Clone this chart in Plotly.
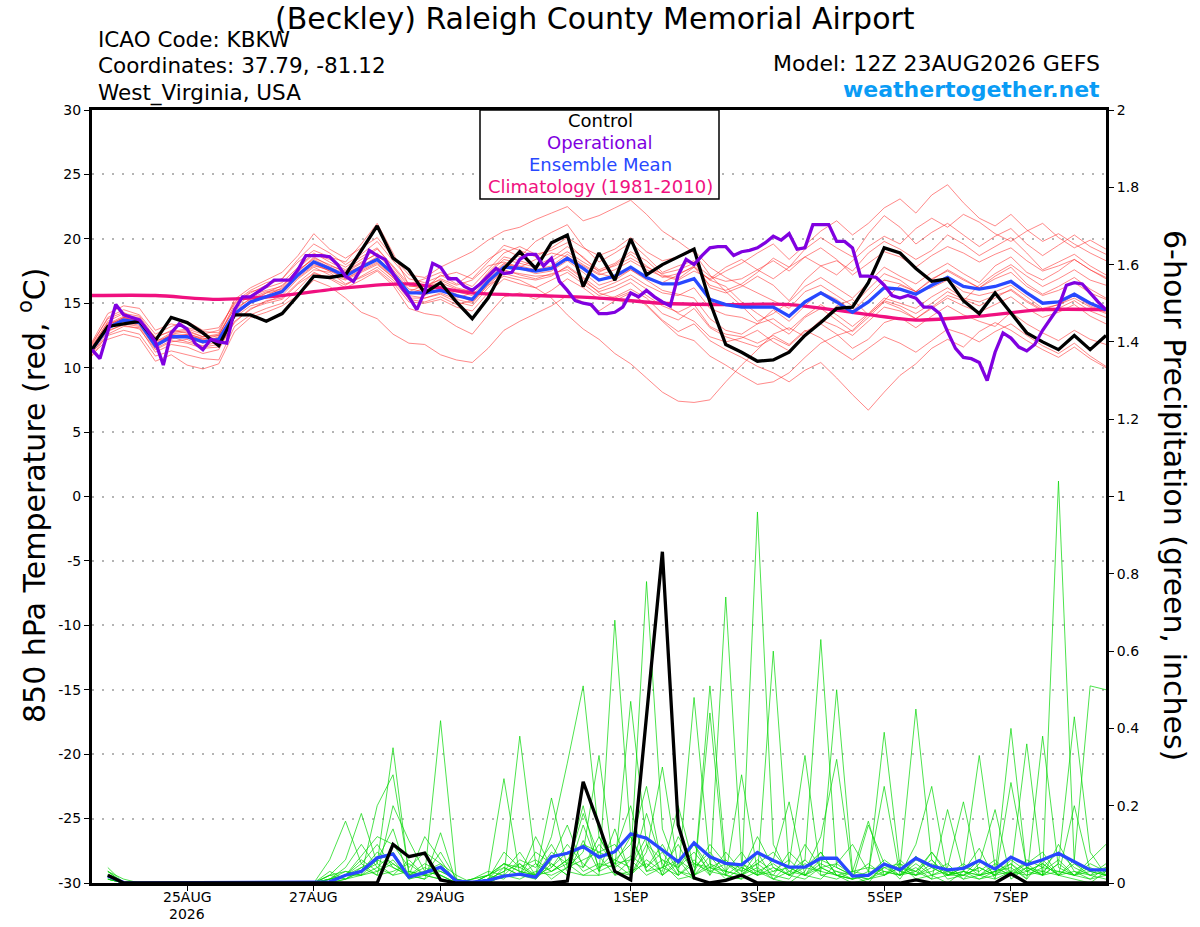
import datetime as dt
import plotly.graph_objects as go

# ---------------- data ----------------
RUN_START = dt.datetime(2026, 8, 23, 12)

x_tick_dates = ["2026-08-25", "2026-08-27", "2026-08-29", "2026-09-01",
                "2026-09-03", "2026-09-05", "2026-09-07"]
x_tick_labels = ["25AUG", "27AUG", "29AUG", "1SEP", "3SEP", "5SEP", "7SEP"]
x_year_label = "2026"

temp_tick_vals = [-30, -25, -20, -15, -10, -5, 0, 5, 10, 15, 20, 25, 30]
temp_tick_labels = ["-30", "-25", "-20", "-15", "-10", "-5", "0", "5", "10", "15", "20", "25", "30"]
precip_tick_vals = [0, 0.2, 0.4, 0.6, 0.8, 1.0, 1.2, 1.4, 1.6, 1.8, 2.0]
precip_tick_labels = ["0", "0.2", "0.4", "0.6", "0.8", "1", "1.2", "1.4", "1.6", "1.8", "2"]

# 850 hPa temperature, 6-hourly from 12Z 23AUG
temp_control = [11.4, 13.2, 13.4, 13.6, 12.1, 13.9, 13.5, 12.7, 11.7,
                14.1, 14.1, 13.6, 14.2, 15.6, 17.1, 17.0, 17.2, 19.1, 21.0, 18.5, 17.6,
                15.8, 16.6, 15.1, 13.8, 15.4, 17.7, 19.0, 17.7, 19.7, 20.3,
                16.3, 18.9, 16.8, 20.0, 17.2, 18.0, 18.6, 19.2, 15.1, 11.8,
                11.2, 10.5, 10.6, 11.2, 12.5, 13.5, 14.6, 14.7, 16.6, 19.3, 18.9, 17.7,
                16.7, 16.9, 15.2, 14.2, 15.8, 14.3, 12.7, 12.0, 11.4, 12.5, 11.4, 12.5]

temp_mean = [11.4, 13.1, 13.7, 13.5, 11.7, 12.4, 12.4, 12.0, 12.2,
             14.2, 15.1, 15.5, 15.9, 17.2, 18.2, 17.7, 17.1, 17.8, 18.4, 17.3, 15.8,
             15.8, 16.0, 15.6, 15.3, 16.7, 17.8, 17.7, 17.5, 17.7, 18.5,
             17.7, 16.8, 17.1, 17.8, 17.0, 16.5, 16.5, 16.9, 15.3, 14.9,
             14.7, 14.7, 14.7, 14.0, 15.1, 15.8, 15.1, 14.3, 15.1, 16.2, 16.1, 15.7,
             16.4, 17.0, 16.3, 16.1, 16.3, 16.7, 15.8, 15.0, 15.1, 15.7, 15.0, 14.5]

# operational run, 3-hourly
temp_operational = [11.4, 10.7, 12.8, 14.9, 14.1, 13.9, 13.7, 12.9, 12.0, 10.2,
                    12.7, 13.4, 13.0, 11.9, 11.4, 12.2, 12.0, 11.9, 14.5, 15.5,
                    15.5, 15.9, 16.3, 16.8, 16.8, 16.8, 17.6, 18.7, 18.7, 18.7,
                    18.6, 18.0, 17.1, 16.7, 17.7, 19.1, 18.7, 18.4, 17.3, 16.3,
                    15.5, 14.5, 15.9, 18.1, 17.8, 16.9, 16.9, 16.3, 16.0, 16.5,
                    17.1, 17.7, 17.3, 17.4, 18.4, 18.8, 18.8, 17.9, 18.5, 16.7,
                    16.0, 15.2, 15.0, 14.9, 14.2, 14.2, 14.3, 14.7, 15.8, 15.5,
                    16.0, 15.5, 15.1, 14.8, 17.2, 18.4, 18.0, 18.7, 19.3, 19.4,
                    19.4, 18.7, 19.0, 19.1, 19.3, 19.7, 20.2, 19.9, 20.4, 19.2,
                    19.3, 21.1, 21.1, 21.1, 19.8, 19.8, 19.3, 17.1, 17.1, 17.0,
                    16.4, 15.6, 15.4, 15.6, 15.4, 14.7, 14.7, 14.2, 12.8, 11.5,
                    10.8, 10.7, 10.4, 9.0, 11.2, 12.7, 12.3, 11.6, 11.3, 11.8,
                    12.9, 13.8, 14.7, 16.4, 16.6, 16.5, 15.8, 15.1, 14.5]

# climatology, daily at 12Z
temp_climatology = [15.6, 15.6, 15.3, 15.6, 16.2, 16.5, 15.8, 15.6, 15.4,
                    15.0, 14.9, 14.9, 14.3, 13.7, 14.0, 14.5, 14.5]

# ensemble members, 6-hourly
temp_m01 = [11.8, 13.9, 14.5, 14.1, 12.6, 13.2, 13.6, 12.9, 13.1,
            15.0, 15.8, 16.4, 16.9, 18.2, 19.1, 18.6, 18.2, 19.6, 21.2, 18.9, 16.4,
            16.1, 17.2, 16.5, 17.3, 18.4, 19.2, 18.6, 19.8, 20.5, 21.1,
            19.4, 18.2, 18.9, 19.7, 18.6, 17.4, 17.9, 18.3, 16.2, 15.8,
            16.3, 17.1, 16.4, 15.2, 16.8, 17.9, 18.3, 17.5, 18.9, 19.8, 19.2, 18.4,
            19.1, 20.3, 19.6, 18.7, 19.4, 20.1, 18.9, 17.6, 18.2, 18.8, 17.9, 17.2]
temp_m02 = [11.2, 12.5, 12.9, 12.6, 10.9, 11.3, 11.0, 10.7, 10.6,
            13.2, 14.1, 14.6, 15.0, 16.1, 17.4, 16.9, 16.2, 16.8, 17.5, 16.4, 14.6,
            14.2, 14.0, 13.2, 12.6, 14.1, 15.5, 15.8, 15.3, 16.0, 16.9,
            16.2, 15.3, 15.5, 16.1, 15.4, 14.2, 13.7, 14.6, 13.1, 12.4,
            12.0, 11.6, 12.3, 11.7, 12.8, 13.4, 12.6, 11.5, 12.2, 13.5, 13.9, 13.1,
            14.0, 14.8, 14.1, 13.6, 13.2, 14.3, 13.4, 12.7, 12.1, 12.9, 12.2, 11.8]
temp_m03 = [11.5, 13.4, 14.0, 13.9, 12.0, 12.7, 12.9, 12.4, 12.6,
            14.6, 15.3, 15.8, 16.4, 17.5, 18.5, 18.0, 17.4, 18.1, 18.9, 17.6, 16.1,
            15.9, 16.3, 15.7, 15.1, 16.4, 17.1, 16.8, 16.2, 15.4, 14.1,
            13.0, 12.2, 11.1, 10.3, 9.2, 8.1, 7.4, 7.3, 7.5, 8.9,
            10.2, 11.4, 12.6, 13.1, 12.4, 13.6, 14.8, 15.3, 14.1, 15.2, 16.4, 15.9,
            16.8, 17.6, 16.9, 16.2, 17.1, 17.8, 16.5, 15.7, 16.3, 17.0, 16.1, 15.4]
temp_m04 = [11.0, 12.2, 12.6, 12.3, 10.5, 11.0, 10.2, 9.9, 10.3,
            12.8, 13.9, 14.3, 14.8, 15.6, 16.8, 16.3, 15.4, 14.3, 13.8, 12.6, 11.9,
            11.8, 11.0, 10.6, 10.4, 11.5, 12.9, 13.6, 14.2, 14.8, 15.6,
            15.1, 14.4, 15.2, 15.8, 14.9, 13.7, 12.8, 13.4, 12.1, 11.4,
            10.8, 10.1, 9.6, 8.9, 9.8, 10.4, 9.2, 7.9, 6.7, 8.1, 9.4, 10.3,
            11.5, 12.2, 11.6, 12.8, 13.5, 12.9, 12.1, 11.4, 10.8, 11.6, 10.7, 10.0]
temp_m05 = [11.6, 13.6, 14.2, 14.0, 12.3, 12.9, 12.7, 12.2, 12.5,
            14.9, 15.9, 16.2, 16.6, 17.8, 18.9, 18.2, 17.6, 18.4, 19.2, 17.9, 16.5,
            16.9, 17.4, 16.8, 16.3, 17.6, 18.9, 19.4, 18.8, 19.1, 19.7,
            18.5, 17.6, 18.1, 19.0, 18.3, 17.2, 16.9, 17.8, 16.8, 17.5,
            18.1, 18.9, 19.6, 18.4, 19.5, 20.6, 21.4, 20.3, 21.2, 22.4, 23.1, 22.0,
            23.4, 24.2, 22.8, 21.6, 21.0, 21.9, 20.7, 19.8, 20.4, 19.6, 18.9, 18.3]
temp_m06 = [12.0, 14.2, 14.8, 14.6, 12.9, 13.4, 13.1, 12.8, 12.7,
            15.3, 16.2, 16.8, 17.4, 18.7, 20.4, 19.2, 18.5, 19.3, 20.1, 18.6, 17.2,
            17.0, 17.8, 18.4, 19.0, 19.9, 20.6, 20.9, 21.5, 22.0, 22.5,
            21.4, 21.8, 22.4, 23.0, 21.9, 20.6, 19.8, 18.9, 17.2, 15.9,
            14.8, 13.6, 14.2, 15.1, 16.3, 17.0, 16.2, 15.4, 16.6, 17.8, 17.1, 16.5,
            17.4, 18.1, 17.3, 16.6, 17.9, 18.6, 17.4, 16.8, 17.5, 18.4, 17.6, 16.9]
temp_m07 = [11.3, 12.9, 13.3, 13.0, 11.4, 12.0, 12.2, 11.6, 11.8,
            13.9, 14.8, 15.1, 15.6, 16.9, 17.8, 17.2, 16.8, 17.4, 18.0, 17.0, 15.6,
            15.4, 15.7, 15.1, 14.8, 16.2, 17.3, 17.0, 16.8, 17.1, 17.9,
            17.0, 16.1, 16.6, 17.2, 16.4, 15.8, 15.6, 16.2, 14.6, 14.1,
            13.9, 13.4, 13.8, 12.9, 14.0, 14.9, 14.1, 13.2, 14.2, 15.4, 15.0, 14.6,
            15.5, 16.2, 15.4, 15.1, 15.6, 16.0, 15.1, 14.4, 14.6, 15.2, 14.4, 13.9]
temp_m08 = [11.4, 13.0, 13.9, 13.8, 11.9, 12.6, 12.3, 11.9, 12.4,
            14.4, 15.4, 15.9, 16.1, 17.4, 18.6, 17.9, 17.5, 18.2, 18.8, 17.5, 15.9,
            16.4, 16.8, 16.2, 15.9, 17.4, 18.6, 18.3, 17.9, 18.5, 19.4,
            18.6, 17.4, 18.0, 18.8, 17.9, 17.0, 17.3, 17.8, 16.4, 16.0,
            16.5, 17.4, 18.5, 17.8, 19.2, 20.1, 19.3, 18.6, 20.4, 21.8, 20.9, 19.6,
            20.5, 21.2, 20.3, 19.4, 20.2, 20.8, 19.6, 18.7, 19.5, 20.3, 19.4, 18.8]
temp_m09 = [10.9, 12.6, 13.2, 13.1, 11.2, 11.8, 11.6, 11.1, 11.4,
            13.6, 14.5, 15.2, 15.4, 16.6, 17.6, 17.4, 16.5, 17.0, 17.6, 16.6, 15.1,
            15.0, 15.3, 14.7, 14.4, 15.8, 16.9, 16.5, 16.2, 16.8, 17.4,
            16.5, 15.6, 16.0, 16.6, 15.6, 14.8, 14.3, 14.9, 13.2, 12.6,
            12.4, 11.9, 12.5, 11.8, 12.9, 12.3, 11.4, 10.6, 11.5, 12.4, 11.9, 11.2,
            12.1, 13.0, 12.6, 12.0, 12.8, 13.4, 12.5, 11.7, 11.1, 11.9, 10.9, 10.1]
temp_m10 = [11.7, 13.5, 13.6, 13.4, 11.8, 12.2, 12.6, 12.3, 12.0,
            14.1, 15.0, 15.6, 16.2, 17.6, 18.4, 17.8, 17.3, 17.9, 18.6, 17.2, 15.7,
            16.2, 16.9, 16.4, 16.8, 17.9, 18.2, 17.8, 18.4, 18.9, 18.6,
            17.9, 17.2, 17.6, 18.3, 17.6, 17.1, 16.8, 17.5, 16.9, 17.8,
            18.4, 17.6, 16.9, 17.8, 18.6, 17.9, 17.2, 18.3, 19.4, 20.2, 19.6, 20.8,
            21.6, 20.9, 21.9, 21.3, 20.4, 19.8, 20.6, 21.2, 20.1, 19.3, 19.9, 19.2]
temp_m11 = [11.5, 13.1, 13.5, 13.3, 11.6, 12.3, 12.5, 12.2, 12.3,
            14.3, 15.2, 15.4, 15.8, 17.0, 17.9, 17.6, 16.9, 17.6, 18.2, 17.1, 15.9,
            15.6, 16.2, 15.9, 15.6, 16.9, 18.0, 17.9, 17.6, 17.9, 18.8,
            18.0, 17.3, 17.0, 17.6, 16.8, 16.0, 15.7, 15.4, 13.8, 12.9,
            12.6, 13.4, 14.5, 13.6, 14.8, 15.9, 15.3, 14.4, 15.6, 16.8, 16.5, 15.9,
            16.2, 16.8, 15.9, 15.6, 15.9, 16.4, 15.5, 14.6, 14.9, 15.4, 14.7, 14.2]
temp_m12 = [11.9, 13.8, 14.3, 13.6, 12.4, 12.8, 13.0, 12.6, 12.9,
            15.1, 16.0, 16.6, 16.9, 18.4, 19.6, 18.9, 18.0, 18.8, 19.8, 18.3, 16.9,
            16.6, 17.1, 17.4, 16.9, 18.2, 19.5, 19.1, 18.6, 19.3, 20.1,
            19.3, 18.7, 19.2, 20.1, 19.0, 18.3, 18.6, 19.1, 17.8, 17.0,
            16.4, 15.8, 15.2, 14.6, 15.9, 16.4, 15.6, 14.8, 16.1, 17.3, 16.8, 15.9,
            16.9, 17.5, 16.8, 16.2, 16.9, 17.4, 16.3, 15.6, 16.0, 16.6, 15.8, 15.3]
temp_m13 = [11.1, 12.8, 13.4, 13.2, 11.5, 12.1, 11.9, 11.5, 11.6,
            13.5, 14.6, 15.0, 15.3, 16.5, 17.3, 17.0, 16.4, 17.1, 17.8, 16.8, 15.3,
            15.1, 15.5, 14.9, 15.2, 16.5, 17.6, 17.2, 16.9, 17.3, 17.6,
            16.7, 15.9, 16.3, 16.9, 16.1, 15.1, 14.2, 13.6, 12.4, 12.0,
            12.3, 12.9, 12.0, 11.3, 12.6, 13.7, 13.2, 12.5, 13.6, 14.7, 14.4, 13.8,
            14.6, 15.4, 14.8, 14.3, 14.9, 15.5, 14.6, 13.9, 14.3, 14.9, 14.0, 13.4]
temp_m14 = [11.3, 13.2, 13.8, 13.7, 11.7, 12.5, 12.6, 12.1, 12.1,
            14.0, 15.0, 15.8, 16.0, 17.3, 18.1, 17.5, 17.3, 17.9, 18.5, 17.4, 15.8,
            15.8, 16.3, 15.4, 15.8, 17.1, 18.1, 17.7, 17.3, 17.5, 18.3,
            17.4, 16.4, 16.8, 17.6, 16.9, 16.6, 17.2, 17.9, 16.8, 16.3,
            15.1, 14.2, 13.4, 12.6, 13.9, 14.6, 13.7, 12.8, 13.9, 15.1, 14.6, 13.8,
            14.7, 15.6, 15.2, 16.4, 17.3, 18.0, 17.1, 16.3, 16.9, 17.6, 16.8, 16.4]
temp_m15 = [11.6, 13.3, 13.9, 13.5, 12.1, 12.4, 12.0, 11.7, 12.0,
            14.2, 15.2, 15.5, 15.9, 17.1, 18.0, 17.5, 16.9, 17.5, 18.1, 17.0, 15.4,
            15.4, 15.8, 15.3, 15.0, 16.4, 17.5, 17.3, 17.1, 17.2, 17.8,
            16.9, 15.8, 15.4, 15.9, 14.8, 13.6, 12.5, 12.1, 10.9, 10.2,
            9.4, 8.7, 8.9, 9.6, 10.8, 11.9, 12.5, 12.9, 14.1, 15.2, 14.8, 14.2,
            15.0, 15.9, 15.3, 14.8, 15.4, 16.1, 15.2, 14.5, 14.9, 15.6, 14.8, 14.3]
temp_m16 = [11.5, 13.3, 13.9, 13.6, 11.8, 12.6, 12.8, 12.4, 12.5,
            14.7, 15.6, 16.0, 16.3, 17.7, 18.8, 18.4, 17.8, 18.6, 19.3, 17.8, 16.3,
            16.3, 16.6, 16.1, 15.9, 17.3, 18.4, 18.1, 17.8, 18.3, 19.0,
            18.2, 17.5, 17.9, 18.5, 17.8, 17.3, 17.6, 18.1, 17.1, 16.7,
            16.9, 17.6, 18.3, 17.5, 18.6, 19.3, 18.4, 17.2, 18.1, 19.0, 18.6, 17.8,
            18.7, 19.4, 18.9, 18.2, 18.8, 19.3, 18.3, 17.5, 17.9, 18.4, 17.6, 17.0]

# 6-hour precipitation (inches), valid from 18Z 23AUG, 6-hourly
precip_control = [0.02, 0, 0, 0, 0, 0, 0, 0,
                  0, 0, 0, 0, 0, 0, 0, 0,
                  0, 0, 0.10, 0.068, 0.077, 0.008, 0, 0,
                  0, 0, 0, 0, 0, 0.005, 0.262, 0.15,
                  0.03, 0.008, 0.43, 0.857, 0.15, 0.013, 0, 0.007,
                  0.02, 0, 0, 0, 0, 0, 0, 0,
                  0, 0, 0, 0.008, 0, 0, 0, 0,
                  0, 0.024, 0, 0, 0, 0, 0, 0]
precip_mean = [0.018, 0.001, 0, 0, 0, 0, 0, 0,
               0, 0, 0, 0, 0, 0.002, 0.003, 0.02,
               0.03, 0.065, 0.075, 0.015, 0.027, 0.041, 0.005, 0.002,
               0.007, 0.018, 0.023, 0.015, 0.068, 0.077, 0.094, 0.067,
               0.081, 0.127, 0.116, 0.085, 0.055, 0.104, 0.068, 0.051,
               0.047, 0.079, 0.058, 0.041, 0.041, 0.064, 0.064, 0.018,
               0.02, 0.049, 0.034, 0.064, 0.044, 0.034, 0.038, 0.058,
               0.036, 0.067, 0.047, 0.06, 0.077, 0.055, 0.034, 0.034]

precip_m01 = [0.04, 0, 0, 0, 0, 0, 0, 0,
              0, 0, 0, 0, 0, 0, 0.02, 0.06,
              0.18, 0.05, 0.35, 0.02, 0.01, 0.13, 0, 0,
              0.01, 0.03, 0.08, 0.02, 0.12, 0.31, 0.51, 0.12,
              0.04, 0.47, 0.1, 0.02, 0.06, 0.01, 0.51, 0.05,
              0.02, 0.08, 0.01, 0, 0.03, 0.12, 0.32, 0.02,
              0, 0.05, 0.01, 0.07, 0.02, 0, 0.03, 0.09,
              0.01, 0.26, 0.04, 0.02, 0.1, 0.03, 0.01, 0.02]
precip_m02 = [0.03, 0, 0, 0, 0, 0, 0, 0,
              0, 0, 0, 0, 0, 0, 0.01, 0.03,
              0.02, 0.2, 0.28, 0.03, 0.02, 0.42, 0.01, 0,
              0, 0.02, 0.38, 0.05, 0.01, 0.04, 0.08, 0.33,
              0.02, 0.03, 0.18, 0.05, 0.01, 0.02, 0.07, 0.02,
              0.01, 0.96, 0.1, 0.02, 0.01, 0.04, 0.02, 0,
              0.01, 0.02, 0.04, 0.45, 0.06, 0.01, 0.02, 0.01,
              0.03, 0.04, 0.01, 0.06, 0.02, 0.01, 0, 0.03]
precip_m03 = [0.02, 0, 0, 0, 0, 0, 0, 0,
              0, 0, 0, 0, 0, 0, 0.06, 0.16,
              0.05, 0.02, 0.2, 0.11, 0.03, 0.02, 0, 0.01,
              0.02, 0.27, 0.02, 0.12, 0.04, 0.1, 0.05, 0.02,
              0.68, 0.12, 0.04, 0.08, 0.02, 0.48, 0.05, 0.01,
              0.04, 0.02, 0.06, 0.21, 0.02, 0.01, 0.05, 0.1,
              0.03, 0.25, 0.02, 0.04, 0.01, 0.19, 0.03, 0.01,
              0.02, 0.05, 0.01, 0.38, 0.04, 0.02, 0.06, 0.1]
precip_m04 = [0.01, 0, 0, 0, 0, 0, 0, 0,
              0, 0, 0, 0, 0, 0, 0, 0.02,
              0.07, 0.12, 0.1, 0.04, 0.08, 0.05, 0.02, 0,
              0.01, 0.05, 0.03, 0.02, 0.22, 0.04, 0.18, 0.07,
              0.02, 0.06, 0.78, 0.14, 0.03, 0.01, 0.44, 0.02,
              0.28, 0.03, 0.01, 0.05, 0.33, 0.02, 0.01, 0.03,
              0.16, 0.02, 0.05, 0.01, 0.02, 0.04, 0.21, 0.02,
              0.01, 0.03, 0.36, 0.02, 0.05, 0.43, 0.08, 0.02]
precip_m05 = [0.02, 0, 0, 0, 0, 0, 0, 0,
              0, 0, 0, 0, 0, 0, 0.03, 0.01,
              0.03, 0.08, 0.05, 0.02, 0.12, 0.06, 0, 0,
              0.02, 0.01, 0.05, 0.01, 0.06, 0.15, 0.04, 0.1,
              0.05, 0.02, 0.08, 0.3, 0.04, 0.1, 0.02, 0.74,
              0.05, 0.02, 0.6, 0.04, 0.02, 0.08, 0.02, 0.01,
              0.02, 0.39, 0.04, 0.02, 0.08, 0.03, 0.01, 0.05,
              0.19, 0.01, 0.04, 0.02, 1.04, 0.05, 0.02, 0.01]
precip_m06 = [0.01, 0, 0, 0, 0, 0, 0, 0,
              0, 0, 0, 0, 0, 0, 0, 0.01,
              0.04, 0.06, 0.14, 0.01, 0.02, 0.08, 0.01, 0,
              0, 0.04, 0.02, 0.01, 0.05, 0.02, 0.11, 0.03,
              0.14, 0.02, 0.06, 0.03, 0.2, 0.04, 0.08, 0.03,
              0.02, 0.05, 0.02, 0.01, 0.06, 0.63, 0.04, 0.02,
              0.01, 0.04, 0.02, 0.1, 0.25, 0.02, 0.04, 0.33,
              0.04, 0.02, 0.05, 0.08, 0.02, 0.06, 0.51, 0.5]
precip_m07 = [0.02, 0, 0, 0, 0, 0, 0, 0,
              0, 0, 0, 0, 0, 0, 0.01, 0.04,
              0.1, 0.04, 0.08, 0.02, 0.05, 0.03, 0.01, 0,
              0.01, 0.08, 0.04, 0.06, 0.03, 0.05, 0.02, 0.04,
              0.06, 0.1, 0.25, 0.04, 0.02, 0.06, 0.02, 0.08,
              0.03, 0.12, 0.04, 0.02, 0.05, 0.03, 0.5, 0.03,
              0.02, 0.06, 0.03, 0.02, 0.04, 0.02, 0.02, 0.04,
              0.02, 0.4, 0.03, 0.05, 0.02, 0.03, 0.02, 0.03]
precip_m08 = [0.03, 0.01, 0, 0, 0, 0, 0, 0,
              0, 0, 0, 0, 0, 0, 0.02, 0.03,
              0.02, 0.03, 0.06, 0.01, 0.03, 0.02, 0, 0,
              0, 0.02, 0.01, 0.03, 0.02, 0.04, 0.06, 0.08,
              0.1, 0.03, 0.05, 0.02, 0.12, 0.05, 0.03, 0.02,
              0.01, 0.03, 0.05, 0.02, 0.04, 0.08, 0.02, 0.01,
              0.15, 0.05, 0.02, 0.03, 0.01, 0.02, 0.03, 0.02,
              0.04, 0.02, 0.03, 0.05, 0.02, 0.2, 0.03, 0.02]
precip_m09 = [0.02, 0, 0, 0, 0, 0, 0, 0,
              0, 0, 0, 0, 0, 0, 0, 0.02,
              0.05, 0.1, 0.04, 0.02, 0.01, 0.04, 0, 0.01,
              0.02, 0.05, 0.03, 0.02, 0.04, 0.08, 0.03, 0.05,
              0.04, 0.07, 0.04, 0.1, 0.03, 0.02, 0.05, 0.03,
              0.02, 0.04, 0.01, 0.03, 0.06, 0.02, 0.03, 0.01,
              0.03, 0.02, 0.06, 0.02, 0.03, 0.05, 0.01, 0.02,
              0.03, 0.05, 0.02, 0.03, 0.06, 0.02, 0.01, 0.04]
precip_m10 = [0.01, 0, 0, 0, 0, 0, 0, 0,
              0, 0, 0, 0, 0, 0, 0.02, 0.01,
              0.02, 0.04, 0.02, 0.06, 0.02, 0.01, 0, 0,
              0.01, 0.02, 0.06, 0.04, 0.1, 0.03, 0.02, 0.02,
              0.03, 0.02, 0.1, 0.06, 0.04, 0.08, 0.03, 0.05,
              0.04, 0.02, 0.03, 0.06, 0.02, 0.04, 0.05, 0.02,
              0.01, 0.03, 0.02, 0.05, 0.02, 0.03, 0.02, 0.06,
              0.02, 0.03, 0.05, 0.02, 0.03, 0.02, 0.04, 0.02]
precip_m11 = [0.03, 0, 0, 0, 0, 0, 0, 0,
              0, 0, 0, 0, 0, 0, 0, 0.01,
              0.03, 0.05, 0.02, 0.03, 0.02, 0.01, 0, 0,
              0.02, 0.04, 0.02, 0.08, 0.05, 0.02, 0.15, 0.04,
              0.08, 0.2, 0.03, 0.04, 0.1, 0.02, 0.04, 0.06,
              0.02, 0.06, 0.03, 0.04, 0.02, 0.05, 0.03, 0.02,
              0.02, 0.04, 0.05, 0.03, 0.08, 0.02, 0.05, 0.02,
              0.03, 0.02, 0.06, 0.04, 0.08, 0.04, 0.02, 0.05]
precip_m12 = [0.02, 0, 0, 0, 0, 0, 0, 0,
              0, 0, 0, 0, 0, 0, 0.01, 0.02,
              0.04, 0.02, 0.03, 0.05, 0.02, 0.03, 0.01, 0,
              0.01, 0.03, 0.05, 0.02, 0.03, 0.06, 0.1, 0.08,
              0.06, 0.04, 0.12, 0.02, 0.05, 0.1, 0.04, 0.02,
              0.05, 0.03, 0.02, 0.08, 0.04, 0.03, 0.02, 0.03,
              0.04, 0.03, 0.02, 0.06, 0.04, 0.02, 0.03, 0.02,
              0.05, 0.03, 0.02, 0.04, 0.03, 0.02, 0.05, 0.03]
precip_m13 = [0.01, 0, 0, 0, 0, 0, 0, 0,
              0, 0, 0, 0, 0, 0, 0.01, 0.02,
              0.06, 0.03, 0.05, 0.02, 0.04, 0.02, 0, 0,
              0.02, 0.05, 0.04, 0.02, 0.08, 0.05, 0.2, 0.03,
              0.05, 0.12, 0.03, 0.06, 0.02, 0.05, 0.04, 0.03,
              0.08, 0.02, 0.04, 0.02, 0.1, 0.04, 0.02, 0.01,
              0.02, 0.05, 0.03, 0.02, 0.05, 0.03, 0.02, 0.04,
              0.02, 0.06, 0.03, 0.02, 0.05, 0.02, 0.03, 0.02]
precip_m14 = [0.02, 0, 0, 0, 0, 0, 0, 0,
              0, 0, 0, 0, 0, 0, 0.01, 0.02,
              0.02, 0.06, 0.04, 0.02, 0.03, 0.05, 0, 0.01,
              0.03, 0.02, 0.02, 0.05, 0.03, 0.06, 0.04, 0.12,
              0.05, 0.06, 0.02, 0.04, 0.06, 0.03, 0.1, 0.05,
              0.03, 0.05, 0.08, 0.03, 0.02, 0.06, 0.04, 0.02,
              0.05, 0.02, 0.04, 0.03, 0.06, 0.02, 0.04, 0.03,
              0.06, 0.02, 0.04, 0.03, 0.02, 0.05, 0.03, 0.04]

temp_members = [temp_m01, temp_m02, temp_m03, temp_m04, temp_m05, temp_m06, temp_m07, temp_m08,
                temp_m09, temp_m10, temp_m11, temp_m12, temp_m13, temp_m14, temp_m15, temp_m16]
precip_members = [precip_m01, precip_m02, precip_m03, precip_m04, precip_m05, precip_m06, precip_m07,
                  precip_m08, precip_m09, precip_m10, precip_m11, precip_m12, precip_m13, precip_m14]

# ---------------- helpers ----------------
def times(n, step_h, first_h=0):
    return [RUN_START + dt.timedelta(hours=first_h + step_h * i) for i in range(n)]

W, H = 1200, 927
L, R, T, B = 92, 1106, 110, 883

def px(x):
    return (x - L) / (R - L)

def py(y):
    return (B - y) / (B - T)

FONT = "DejaVu Sans"
RED = "rgb(255,45,45)"
GREEN = "rgb(0,215,0)"
PURPLE = "#8000e0"
BLUE = "#2848ff"
MAGENTA = "#f0107f"

fig = go.Figure()

# precipitation members (right axis)
for m in precip_members:
    fig.add_trace(go.Scatter(x=times(len(m), 6, 6), y=m, yaxis="y2", mode="lines",
                             line=dict(color=GREEN, width=0.7), hoverinfo="skip"))
# temperature members
for m in temp_members:
    fig.add_trace(go.Scatter(x=times(len(m), 6), y=m, mode="lines",
                             line=dict(color=RED, width=0.7), opacity=0.8, hoverinfo="skip"))

# climatology
fig.add_trace(go.Scatter(x=times(len(temp_climatology), 24), y=temp_climatology, mode="lines",
                         line=dict(color=MAGENTA, width=3.3, shape="spline", smoothing=0.8)))
# ensemble means
fig.add_trace(go.Scatter(x=times(len(precip_mean), 6, 6), y=precip_mean, yaxis="y2", mode="lines",
                         line=dict(color=BLUE, width=3.3)))
fig.add_trace(go.Scatter(x=times(len(temp_mean), 6), y=temp_mean, mode="lines",
                         line=dict(color=BLUE, width=3.3)))
# control
fig.add_trace(go.Scatter(x=times(len(precip_control), 6, 6), y=precip_control, yaxis="y2", mode="lines",
                         line=dict(color="black", width=3.3)))
fig.add_trace(go.Scatter(x=times(len(temp_control), 6), y=temp_control, mode="lines",
                         line=dict(color="black", width=3.3)))
# operational
fig.add_trace(go.Scatter(x=times(len(temp_operational), 3), y=temp_operational, mode="lines",
                         line=dict(color=PURPLE, width=3.3)))

x_end = RUN_START + dt.timedelta(hours=384)

fig.update_layout(
    width=W, height=H,
    margin=dict(l=L, r=W - R, t=T, b=H - B, pad=0),
    plot_bgcolor="white", paper_bgcolor="white",
    showlegend=False,
    font=dict(family=FONT, color="black", size=14),
    xaxis=dict(type="date", range=[RUN_START, x_end],
               tickmode="array", tickvals=x_tick_dates, showticklabels=False,
               ticks="outside", ticklen=5, tickwidth=1, tickcolor="black",
               showline=True, linewidth=3, linecolor="black", mirror=True,
               showgrid=False, zeroline=False, automargin=False),
    yaxis=dict(range=[-30, 30], tickmode="array", tickvals=temp_tick_vals, ticktext=temp_tick_labels,
               ticks="outside", ticklen=5, tickwidth=1, tickcolor="black",
               showline=True, linewidth=3, linecolor="black",
               showgrid=True, gridcolor="#b4b4b4", griddash="2px,8px", gridwidth=1.5,
               zeroline=False, automargin=False, tickfont=dict(size=14, family=FONT)),
    yaxis2=dict(range=[0, 2], overlaying="y", side="right",
                tickmode="array", tickvals=precip_tick_vals, ticktext=precip_tick_labels,
                ticks="outside", ticklen=5, tickwidth=1, tickcolor="black",
                showline=True, linewidth=3, linecolor="black",
                showgrid=False, zeroline=False, automargin=False,
                tickfont=dict(size=14, family=FONT)),
)

# date labels under the x ticks, placed on the date axis
for d, lab in zip(x_tick_dates, x_tick_labels):
    fig.add_annotation(text=lab, xref="x", yref="paper", x=d, y=py(897),
                       xanchor="center", yanchor="middle", showarrow=False,
                       font=dict(family=FONT, size=14, color="black"))
fig.add_annotation(text=x_year_label, xref="x", yref="paper", x=x_tick_dates[0], y=py(914),
                   xanchor="center", yanchor="middle", showarrow=False,
                   font=dict(family=FONT, size=14, color="black"))

# legend box
fig.add_shape(type="rect", xref="paper", yref="paper",
              x0=px(480), x1=px(719), y0=py(199), y1=py(110),
              line=dict(color="black", width=1.5), fillcolor="white", layer="above")

legend_items = [("Control", "black", 121), ("Operational", PURPLE, 142.5),
                ("Ensemble Mean", BLUE, 164), ("Climatology (1981-2010)", MAGENTA, 186)]
for text, color, ycen in legend_items:
    fig.add_annotation(text=text, xref="paper", yref="paper", x=px(600), y=py(ycen),
                       xanchor="center", yanchor="middle", showarrow=False,
                       font=dict(family=FONT, size=18, color=color))

# title and header texts
fig.add_annotation(text="(Beckley) Raleigh County Memorial Airport", xref="paper", yref="paper",
                   x=px(595), y=py(19), xanchor="center", yanchor="middle", showarrow=False,
                   font=dict(family=FONT, size=30, color="black"))
for text, ycen in [("ICAO Code: KBKW", 40), ("Coordinates: 37.79, -81.12", 66), ("West_Virginia, USA", 93)]:
    fig.add_annotation(text=text, xref="paper", yref="paper", x=px(96), y=py(ycen),
                       xanchor="left", yanchor="middle", showarrow=False,
                       font=dict(family=FONT, size=21.5, color="black"))
fig.add_annotation(text="Model: 12Z 23AUG2026 GEFS", xref="paper", yref="paper", x=px(1102), y=py(63),
                   xanchor="right", yanchor="middle", showarrow=False,
                   font=dict(family=FONT, size=22, color="black"))
fig.add_annotation(text="<b>weathertogether.net</b>", xref="paper", yref="paper", x=px(1102), y=py(89),
                   xanchor="right", yanchor="middle", showarrow=False,
                   font=dict(family=FONT, size=22, color="#0a9cf5"))

# axis titles
fig.add_annotation(text="850 hPa Temperature (red, <sup>o</sup>C)", xref="paper", yref="paper",
                   x=px(32), y=py(495), xanchor="center", yanchor="middle", textangle=-90,
                   showarrow=False, font=dict(family=FONT, size=30, color="black"))
fig.add_annotation(text="6-hour Precipitation (green, inches)", xref="paper", yref="paper",
                   x=px(1175), y=py(495), xanchor="center", yanchor="middle", textangle=90,
                   showarrow=False, font=dict(family=FONT, size=30, color="black"))

# the page's default body margin would shift the 1200x927 figure inside the window
fig.write_html("out.html",
               config={"displayModeBar": False},
               post_script="document.body.style.margin='0';document.body.style.padding='0';"
                           "document.body.style.overflow='hidden';")
